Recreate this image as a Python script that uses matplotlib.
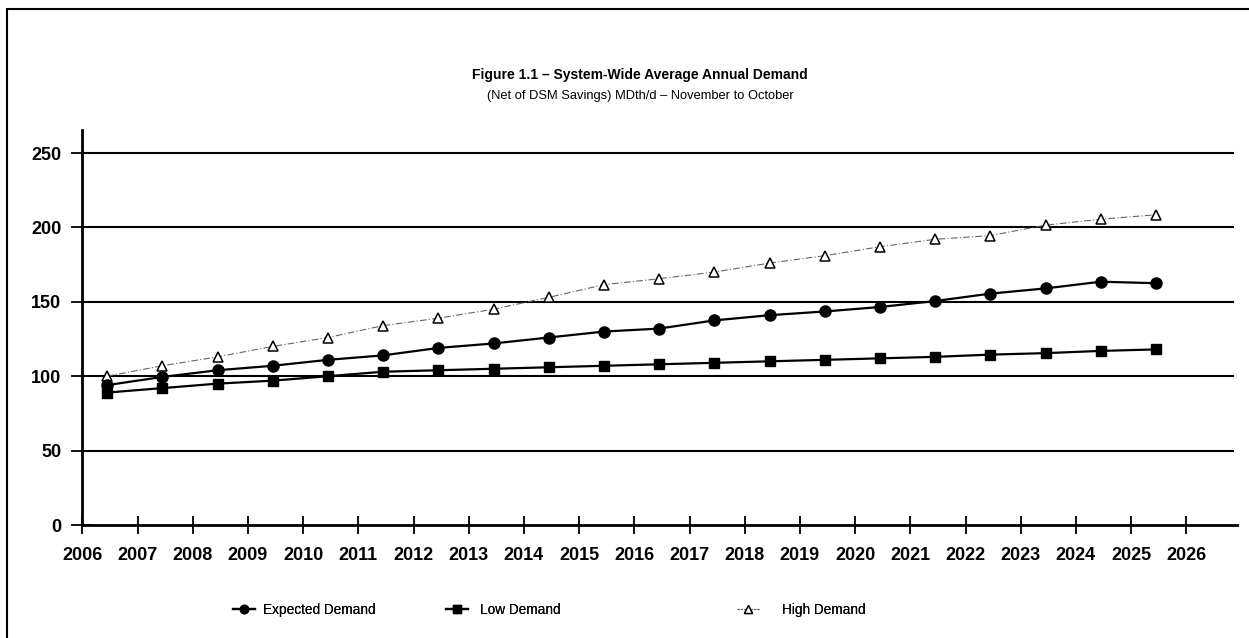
import numpy as np
import matplotlib.pyplot as plt
from matplotlib.lines import Line2D
from matplotlib.patches import Rectangle

plt.rcParams['font.family'] = ['Liberation Sans', 'DejaVu Sans']

# Data (MDth/d, Nov-Oct years)
years = np.arange(2006, 2026)
expected = [94, 99.5, 104, 107, 111, 114, 119, 122, 126, 130, 132, 137.5, 141,
            143.5, 146.5, 150.5, 155.5, 159, 163.5, 162.5]
low = [89, 92, 95, 97, 100, 103, 104, 105, 106, 107, 108, 109, 110,
       111, 112, 113, 114.5, 115.5, 117, 118]
high = [100, 107, 113, 120, 126, 134, 139, 145, 153, 161.5, 165.5, 170, 176,
        181, 187, 192, 194.5, 201.5, 205.5, 208.5]
xticks = np.arange(2006, 2027)
yticks = [0, 50, 100, 150, 200, 250]

W, H = 1249, 638
fig = plt.figure(figsize=(W / 100, H / 100), dpi=100)

# outer frame (only top and left edges visible in the reference)
fig.patches.append(Rectangle((7 / W, -0.1), 1.2, (1 - 9 / H) + 0.1, transform=fig.transFigure,
                             fill=False, edgecolor='black', linewidth=1.5))

ax = fig.add_axes([82.3 / W, 1 - 525 / H, (1236.7 - 82.3) / W, (525 - 130) / H])

xpos = years + 0.45
ax.plot(xpos, high, color='#666666', linewidth=0.8, linestyle=(0, (6, 2, 1, 2)),
        marker='^', markersize=7, markerfacecolor='white', markeredgecolor='black',
        markeredgewidth=1.1, zorder=3)
ax.plot(xpos, expected, color='black', linewidth=1.6, marker='o', markersize=8, zorder=4)
ax.plot(xpos, low, color='black', linewidth=1.6, marker='s', markersize=7, zorder=4)

ax.set_xlim(2006, 2006 + (1236.7 - 82.3) / 55.2)
ax.set_ylim(0, (525 - 130) / 1.488)

for y in yticks[1:]:
    ax.axhline(y, xmin=0, xmax=(1233 - 82.3) / (1236.7 - 82.3), color='black', linewidth=1.5, zorder=1)

for s in ['top', 'right']:
    ax.spines[s].set_visible(False)
ax.spines['left'].set_linewidth(2)
ax.spines['bottom'].set_linewidth(2)

ax.set_xticks(xticks)
ax.set_xticklabels([str(x) for x in xticks], fontsize=13, fontweight='bold')
ax.set_yticks(yticks)
ax.set_yticklabels([str(y) for y in yticks], fontsize=13, fontweight='bold')
ax.tick_params(axis='x', direction='inout', length=13, width=1.3, pad=9)
ax.tick_params(axis='y', direction='inout', length=16, width=1.3, pad=7)

fig.text(640 / W, 1 - 75 / H, 'Figure 1.1 – System-Wide Average Annual Demand',
         ha='center', va='center', fontsize=10, fontweight='bold')
fig.text(640 / W, 1 - 96 / H, '(Net of DSM Savings) MDth/d – November to October',
         ha='center', va='center', fontsize=9.3)

# legend, three separate entries spread along the bottom
h_exp = Line2D([], [], color='black', linewidth=1.6, marker='o', markersize=6)
h_low = Line2D([], [], color='black', linewidth=1.6, marker='s', markersize=6)
h_high = Line2D([], [], color='#666666', linewidth=0.8, linestyle=(0, (2, 1)), marker='^',
                markersize=6, markerfacecolor='white', markeredgecolor='black')
for h, lab, x0, pad in [(h_exp, 'Expected Demand', 233, 0.6), (h_low, 'Low Demand', 446, 0.9),
                        (h_high, 'High Demand', 737, 1.7)]:
    lg = fig.legend(handles=[h], labels=[lab], loc='center left',
                    bbox_to_anchor=(x0 / W, 1 - 610 / H), frameon=False,
                    fontsize=9.8, handlelength=1.6, handletextpad=pad, borderpad=0,
                    borderaxespad=0)
    fig.add_artist(lg)

fig.savefig('out.png', dpi=100)
